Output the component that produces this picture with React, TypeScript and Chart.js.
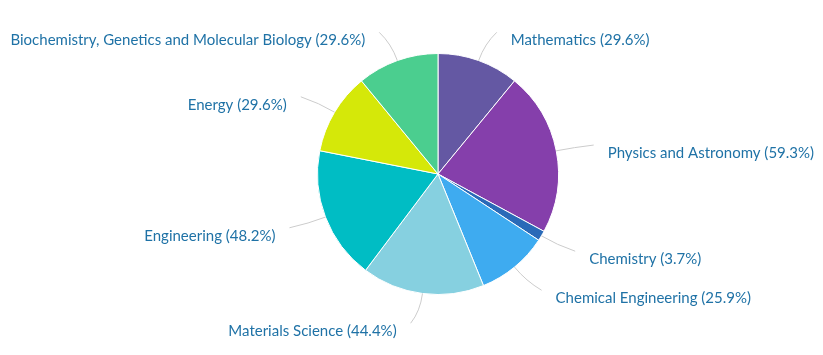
import React, { useEffect, useRef } from "react";
import { Chart, registerables } from "chart.js";

Chart.register(...registerables);

const categories = [
  "Mathematics",
  "Physics and Astronomy",
  "Chemistry",
  "Chemical Engineering",
  "Materials Science",
  "Engineering",
  "Energy",
  "Biochemistry, Genetics and Molecular Biology",
];
const percentages = [29.6, 59.3, 3.7, 25.9, 44.4, 48.2, 29.6, 29.6];
const sliceColors = [
  "#6458a3",
  "#853fab",
  "#2a6ab8",
  "#3eabf0",
  "#86d0e0",
  "#00bdc4",
  "#d5e809",
  "#4bce8f",
];

const FONT = "15px Lato";
const TEXT_COLOR = "#1f72a6";

const labelPlugin = {
  id: "outerLabels",
  afterDraw(chart: any) {
    const ctx = chart.ctx as CanvasRenderingContext2D;
    const meta = chart.getDatasetMeta(0);
    ctx.save();
    ctx.font = FONT;
    meta.data.forEach((arc: any, i: number) => {
      const { x, y, startAngle, endAngle, outerRadius } = arc.getProps(
        ["x", "y", "startAngle", "endAngle", "outerRadius"],
        true
      );
      const mid = (startAngle + endAngle) / 2;
      const c = Math.cos(mid);
      const s = Math.sin(mid);
      const right = c >= 0;
      const dir = right ? 1 : -1;
      const ex = x + outerRadius * c;
      const ey = y + outerRadius * s;
      const dist = 30;
      const px = x + (outerRadius + dist) * c;
      const py = y + (outerRadius + dist) * s;
      const cx = x + (outerRadius + dist * 0.6) * c;
      const cy = y + (outerRadius + dist * 0.6) * s;
      const endX = px + dir * 8;
      ctx.beginPath();
      ctx.moveTo(ex, ey);
      ctx.quadraticCurveTo(cx, cy, endX, py);
      ctx.strokeStyle = "#cccccc";
      ctx.lineWidth = 1;
      ctx.stroke();
      ctx.fillStyle = TEXT_COLOR;
      ctx.textAlign = right ? "left" : "right";
      ctx.textBaseline = "middle";
      ctx.fillText(
        `${categories[i]} (${percentages[i]}%)`,
        px + dir * 22,
        py + 8
      );
    });
    ctx.restore();
  },
};

export default function App() {
  const ref = useRef<HTMLCanvasElement>(null);
  useEffect(() => {
    document.body.style.margin = "0";
    const chart = new Chart(ref.current!, {
      type: "pie",
      data: {
        labels: categories,
        datasets: [
          {
            data: percentages,
            backgroundColor: sliceColors,
            borderColor: "#ffffff",
            borderWidth: 1,
          },
        ],
      },
      options: {
        responsive: false,
        animation: false,
        layout: { padding: { left: 200, right: 147, top: 53, bottom: 60 } },
        plugins: {
          legend: { display: false },
          tooltip: { enabled: false },
        },
      },
      plugins: [labelPlugin],
    });
    return () => chart.destroy();
  }, []);
  return (
    <div style={{ width: 823, height: 355, background: "#fff" }}>
      <canvas ref={ref} width={823} height={355} />
    </div>
  );
}
